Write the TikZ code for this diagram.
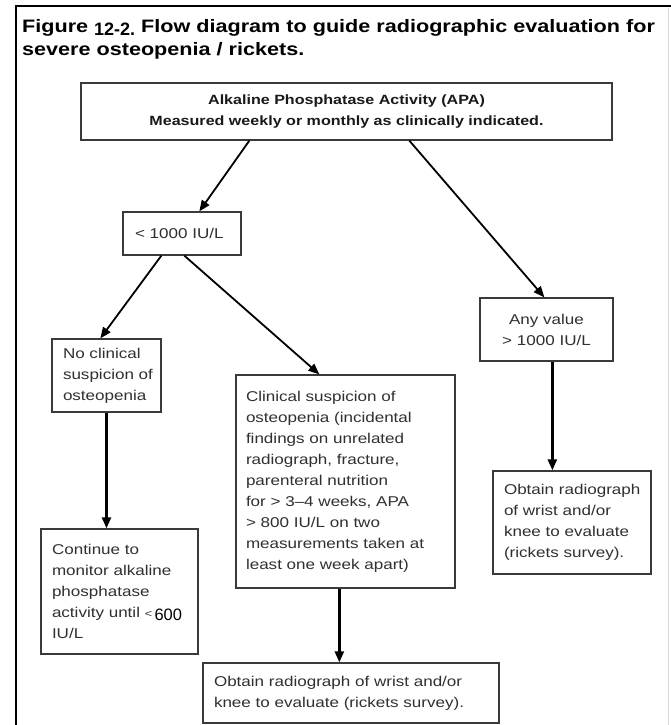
\documentclass[tikz,border=0pt]{standalone}
\usepackage{fontspec}
\setmainfont[FakeStretch=1.2]{Liberation Sans}
\newfontfamily\plainsans{Liberation Sans}
\usetikzlibrary{arrows.meta,calc}
\definecolor{txt}{HTML}{303030}
\definecolor{edge}{HTML}{3A3A3A}
% one unbreakable line of box text
\newcommand{\bl}[1]{\mbox{#1}}

\begin{document}
\begin{tikzpicture}[x=1pt,y=-1pt,
  box/.style={draw=edge, line width=1.3pt, rectangle, inner ysep=0pt,
    text=txt, font=\fontsize{14.2}{21}\selectfont, align=left},
  arr/.style={draw=black, line width=1.8pt, -{Triangle[length=11pt,width=9pt]}},
  varr/.style={arr, line width=2.4pt},
]
% canvas and outer frame
\fill[white] (0,0) rectangle (671,725);
\useasboundingbox (0,0) rectangle (671,725);
\draw[gray!30, line width=1pt] (668,8) -- (668,725);
\draw[black, line width=2.5pt] (671,6) -- (16,6) -- (16,725);

% caption
\node[anchor=base west, inner sep=0pt, font=\bfseries\fontsize{18}{20}\selectfont] (cap1) at (22,33)
  {Figure \raisebox{-3pt}{\plainsans\bfseries 12-2.} Flow diagram to guide radiographic evaluation for};
\node[anchor=base west, inner sep=0pt, font=\bfseries\fontsize{18}{20}\selectfont] (cap2) at (22,56)
  {severe osteopenia / rickets.};

% boxes
\node[box, align=center, text=black!90, font=\bfseries\fontsize{13.4}{21}\selectfont,
  minimum width=531, minimum height=57, text width=511, inner xsep=10] (apa) at (346.5,111.5)
  {Alkaline Phosphatase Activity (APA)\\Measured weekly or monthly as clinically indicated.};

\node[box, minimum width=118, minimum height=43, text width=94, inner xsep=12] (low) at (182,233.5)
  {\bl{< 1000 IU/L}};

\node[box, align=center, minimum width=133, minimum height=63, text width=113, inner xsep=10] (high) at (546.5,329.5)
  {Any value\\> 1000 IU/L};

\node[box, minimum width=109, minimum height=73, text width=87, inner xsep=11] (nosus) at (106.5,375.5)
  {\bl{No clinical}\\\bl{suspicion of}\\\bl{osteopenia}};

\node[box, minimum width=219, minimum height=213, text width=199, inner xsep=10] (sus) at (345.5,481.5)
  {\bl{Clinical suspicion of}\\\bl{osteopenia (incidental}\\\bl{findings on unrelated}\\\bl{radiograph, fracture,}\\\bl{parenteral nutrition}\\\bl{for > 3--4 weeks, APA}\\\bl{> 800 IU/L on two}\\\bl{measurements taken at}\\\bl{least one week apart)}};

\node[box, minimum width=158, minimum height=103, text width=136, inner xsep=11] (xrayR) at (572,522.5)
  {\bl{Obtain radiograph}\\\bl{of wrist and/or}\\\bl{knee to evaluate}\\\bl{(rickets survey).}};

\node[box, minimum width=157, minimum height=125, text width=135, inner xsep=11] (mon) at (119.5,591.5)
  {\bl{Continue to}\\\bl{monitor alkaline}\\\bl{phosphatase}\\\bl{activity until {\fontsize{10.5}{11}\selectfont<}\,{\color{black}\plainsans\fontsize{16.5}{16}\selectfont\raisebox{-2.5pt}{600}}}\\\bl{IU/L}};

\node[box, minimum width=296, minimum height=60, text width=274, inner xsep=11] (xrayB) at (351,693)
  {\bl{Obtain radiograph of wrist and/or}\\\bl{knee to evaluate (rickets survey).}};

% connectors
\draw[arr] ($(apa.south west)+(169,0)$) -- ($(low.north west)+(77,0)$);
\draw[arr] ($(apa.south west)+(329,0)$) -- ($(high.north west)+(65,0)$);
\draw[arr] ($(low.south west)+(39,0)$) -- ($(nosus.north west)+(49,0)$);
\draw[arr] ($(low.south west)+(62,0)$) -- ($(sus.north west)+(84,0)$);
\draw[varr] (nosus.south) -- (nosus.south |- mon.north);
\draw[varr] ($(high.south west)+(73,0)$) coordinate (hs) -- (hs |- xrayR.north);
\draw[varr] ($(sus.south west)+(104,0)$) coordinate (ss) -- (ss |- xrayB.north);
\end{tikzpicture}
\end{document}
